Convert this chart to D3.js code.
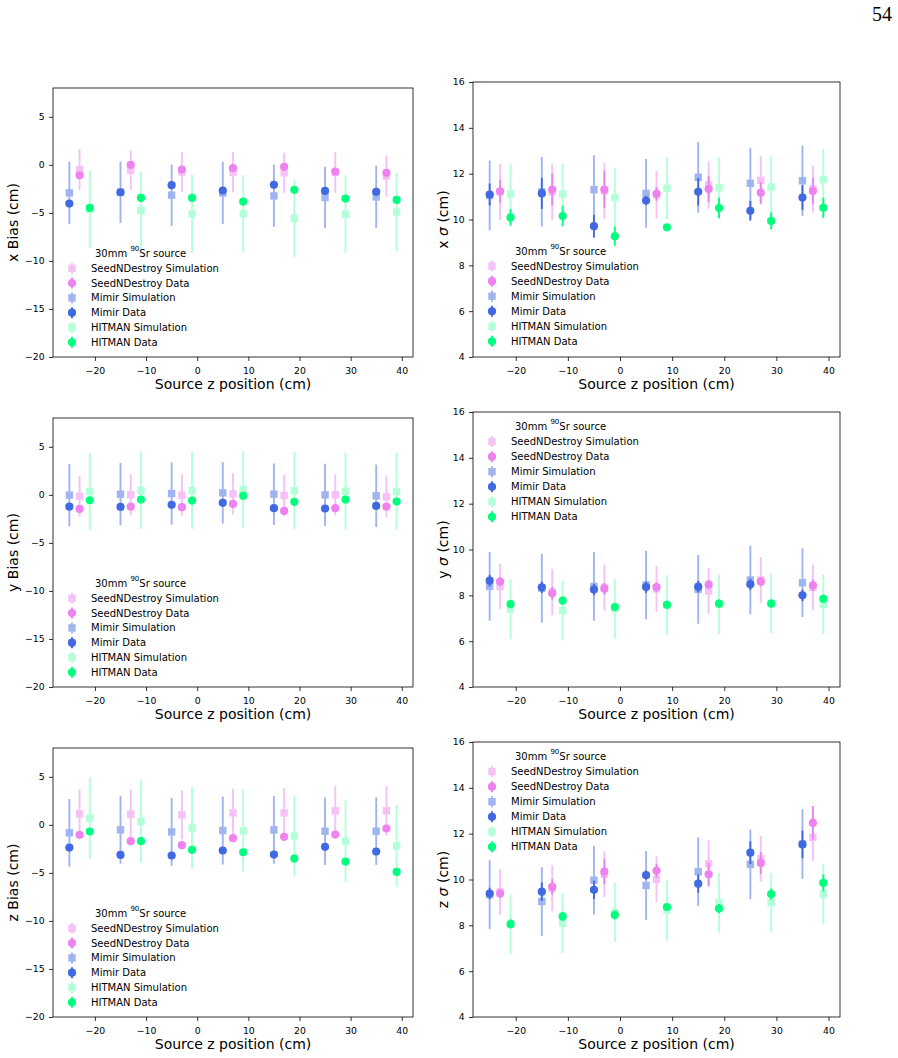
<!DOCTYPE html>
<html>
<head>
<meta charset="utf-8">
<script src="https://cdn.jsdelivr.net/npm/d3@7/dist/d3.min.js"></script>
<style>
  body { margin: 0; background: #fff; }
  svg text { font-family: "DejaVu Sans", sans-serif; fill: #000; }
</style>
</head>
<body>
<svg id="fig" width="898" height="1058"></svg>
<script>
// source z positions (cm); each detector is drawn shifted a little to the right
const zPositions = [-25, -15, -5, 5, 15, 25, 35];
const xTicks = [-20, -10, 0, 10, 20, 30, 40];
const biasTicks = [-20, -15, -10, -5, 0, 5];
const sigmaTicks = [4, 6, 8, 10, 12, 14, 16];

// every entry is [value, error]
// ---- x bias
const xBiasSndSim   = [[-0.49,2.15],[-0.56,2.05],[-0.76,2.1],[-0.76,2.1],[-0.83,2.1],[-0.80,2.1],[-1.15,2.15]];
const xBiasSndData  = [[-1.08,0.2],[0.0,0.2],[-0.49,0.2],[-0.35,0.2],[-0.21,0.2],[-0.69,0.2],[-0.83,0.2]];
const xBiasMimSim   = [[-2.92,3.25],[-2.85,3.2],[-3.16,3.2],[-2.92,3.25],[-3.23,3.23],[-3.40,3.2],[-3.33,3.23]];
const xBiasMimData  = [[-4.03,0.2],[-2.85,0.2],[-2.12,0.2],[-2.67,0.2],[-2.08,0.2],[-2.71,0.2],[-2.81,0.2]];
const xBiasHitSim   = [[-4.65,4.05],[-4.76,4.05],[-5.10,4.05],[-5.10,4.05],[-5.56,4.05],[-5.14,4.05],[-4.90,4.05]];
const xBiasHitData  = [[-4.48,0.2],[-3.44,0.2],[-3.44,0.2],[-3.82,0.2],[-2.60,0.2],[-3.51,0.2],[-3.65,0.2]];
// ---- x sigma
const xSigSndSim    = [[11.2,1.22],[11.2,1.22],[11.25,1.22],[11.08,1.03],[11.5,1.03],[11.71,1.05],[11.33,1.03]];
const xSigSndData   = [[11.23,0.5],[11.31,0.7],[11.31,0.8],[11.12,0.3],[11.33,0.57],[11.17,0.47],[11.24,0.58]];
const xSigMimSim    = [[11.05,1.52],[11.21,1.52],[11.30,1.5],[11.14,1.5],[11.84,1.54],[11.58,1.55],[11.69,1.54]];
const xSigMimData   = [[11.09,0.48],[11.14,0.68],[9.71,0.5],[10.83,0.2],[11.21,0.6],[10.38,0.43],[10.96,0.54]];
const xSigHitSim    = [[11.11,1.3],[11.11,1.33],[10.96,1.3],[11.36,1.35],[11.39,1.33],[11.42,1.33],[11.75,1.33]];
const xSigHitData   = [[10.09,0.36],[10.15,0.45],[9.27,0.42],[9.66,0.12],[10.50,0.45],[9.94,0.37],[10.51,0.44]];
// ---- y bias
const yBiasSndSim   = [[-0.14,2.13],[0.0,2.13],[-0.03,2.13],[0.10,2.13],[-0.07,2.13],[0.0,2.13],[-0.21,2.13]];
const yBiasSndData  = [[-1.46,0.2],[-1.22,0.2],[-1.28,0.2],[-0.94,0.2],[-1.67,0.2],[-1.39,0.2],[-1.22,0.2]];
const yBiasMimSim   = [[-0.03,3.25],[0.07,3.25],[0.14,3.25],[0.21,3.2],[0.07,3.2],[0.0,3.25],[-0.10,3.25]];
const yBiasMimData  = [[-1.22,0.2],[-1.25,0.2],[-1.04,0.2],[-0.83,0.2],[-1.39,0.2],[-1.42,0.2],[-1.15,0.2]];
const yBiasHitSim   = [[0.35,4.0],[0.45,4.0],[0.45,4.0],[0.56,4.0],[0.45,4.0],[0.38,4.0],[0.35,4.0]];
const yBiasHitData  = [[-0.56,0.2],[-0.49,0.2],[-0.59,0.2],[-0.10,0.2],[-0.73,0.2],[-0.49,0.2],[-0.69,0.2]];
// ---- y sigma
const ySigSndSim    = [[8.39,1.0],[8.15,1.0],[8.34,1.0],[8.28,1.0],[8.19,1.0],[8.67,1.0],[8.34,1.0]];
const ySigSndData   = [[8.60,0.2],[8.09,0.27],[8.29,0.25],[8.36,0.2],[8.47,0.2],[8.60,0.2],[8.44,0.25]];
const ySigMimSim    = [[8.39,1.5],[8.31,1.5],[8.39,1.5],[8.45,1.5],[8.26,1.5],[8.67,1.5],[8.55,1.5]];
const ySigMimData   = [[8.64,0.25],[8.35,0.25],[8.25,0.25],[8.36,0.25],[8.38,0.25],[8.48,0.25],[8.00,0.25]];
const ySigHitSim    = [[7.40,1.3],[7.34,1.3],[7.42,1.3],[7.58,1.3],[7.61,1.3],[7.64,1.3],[7.61,1.3]];
const ySigHitData   = [[7.62,0.18],[7.77,0.18],[7.49,0.18],[7.59,0.18],[7.64,0.18],[7.64,0.18],[7.85,0.18]];
// ---- z bias
const zBiasSndSim   = [[1.15,2.57],[1.11,2.57],[1.04,2.55],[1.25,2.53],[1.25,2.55],[1.46,2.6],[1.46,2.6]];
const zBiasSndData  = [[-1.04,0.2],[-1.70,0.2],[-2.12,0.2],[-1.39,0.2],[-1.25,0.2],[-1.01,0.2],[-0.38,0.4]];
const zBiasMimSim   = [[-0.83,3.52],[-0.52,3.52],[-0.73,3.54],[-0.59,3.54],[-0.52,3.52],[-0.66,3.52],[-0.66,3.52]];
const zBiasMimData  = [[-2.36,0.2],[-3.13,0.2],[-3.19,0.2],[-2.67,0.2],[-3.09,0.2],[-2.29,0.2],[-2.78,0.2]];
const zBiasHitSim   = [[0.69,4.24],[0.35,4.27],[-0.31,4.27],[-0.62,4.25],[-1.15,4.25],[-1.70,4.25],[-2.19,4.24]];
const zBiasHitData  = [[-0.69,0.2],[-1.70,0.2],[-2.60,0.2],[-2.85,0.2],[-3.51,0.2],[-3.82,0.2],[-4.90,0.2]];
// ---- z sigma
const zSigSndSim    = [[9.46,1.0],[9.61,1.0],[10.23,1.0],[10.01,1.0],[10.69,1.02],[10.91,1.0],[11.84,1.02]];
const zSigSndData   = [[9.39,0.2],[9.68,0.35],[10.34,0.55],[10.38,0.3],[10.23,0.5],[10.72,0.48],[12.47,0.74]];
const zSigMimSim    = [[9.34,1.5],[9.04,1.5],[9.97,1.5],[9.74,1.5],[10.34,1.5],[10.66,1.52],[11.55,1.52]];
const zSigMimData   = [[9.39,0.25],[9.47,0.4],[9.55,0.4],[10.19,0.2],[9.82,0.4],[11.17,0.5],[11.53,0.6]];
const zSigHitSim    = [[8.04,1.3],[8.09,1.3],[8.57,1.3],[8.66,1.3],[8.99,1.3],[8.99,1.3],[9.37,1.3]];
const zSigHitData   = [[8.06,0.2],[8.39,0.2],[8.45,0.2],[8.80,0.1],[8.73,0.2],[9.36,0.25],[9.85,0.37]];

// series look, in drawing/legend order
const seriesStyle = [
  { label: "SeedNDestroy Simulation", shift: 2, color: "#f6c1f6", marker: "square" },
  { label: "SeedNDestroy Data",       shift: 2, color: "#ee82ee", marker: "circle" },
  { label: "Mimir Simulation",        shift: 0, color: "#a0b4f0", marker: "square" },
  { label: "Mimir Data",              shift: 0, color: "#4169e1", marker: "circle" },
  { label: "HITMAN Simulation",       shift: 4, color: "#b2ffd8", marker: "square" },
  { label: "HITMAN Data",             shift: 4, color: "#00ff7f", marker: "circle" }
];

const panels = [
  { axis: "x", kind: "bias",  box: [53, 88, 413, 357],   legend: "lower",
    series: [xBiasSndSim, xBiasSndData, xBiasMimSim, xBiasMimData, xBiasHitSim, xBiasHitData] },
  { axis: "x", kind: "sigma", box: [473, 82, 840, 357],  legend: "lower",
    series: [xSigSndSim, xSigSndData, xSigMimSim, xSigMimData, xSigHitSim, xSigHitData] },
  { axis: "y", kind: "bias",  box: [53, 418, 413, 687],  legend: "lower",
    series: [yBiasSndSim, yBiasSndData, yBiasMimSim, yBiasMimData, yBiasHitSim, yBiasHitData] },
  { axis: "y", kind: "sigma", box: [473, 412, 840, 687], legend: "upper",
    series: [ySigSndSim, ySigSndData, ySigMimSim, ySigMimData, ySigHitSim, ySigHitData] },
  { axis: "z", kind: "bias",  box: [53, 748, 413, 1017], legend: "lower",
    series: [zBiasSndSim, zBiasSndData, zBiasMimSim, zBiasMimData, zBiasHitSim, zBiasHitData] },
  { axis: "z", kind: "sigma", box: [473, 742, 840, 1017], legend: "upper",
    series: [zSigSndSim, zSigSndData, zSigMimSim, zSigMimData, zSigHitSim, zSigHitData] }
];

const svg = d3.select("#fig");
svg.append("rect").attr("width", 898).attr("height", 1058).attr("fill", "#fff");

// page number
svg.append("text")
  .attr("x", 892).attr("y", 21)
  .attr("text-anchor", "end")
  .style("font-family", "'Liberation Serif', 'DejaVu Serif', serif")
  .style("font-size", "20px")
  .text("54");

function drawMarker(g, type, color) {
  if (type === "square") {
    g.append("rect").attr("x", -3.7).attr("y", -3.7).attr("width", 7.4).attr("height", 7.4).attr("fill", color);
  } else {
    g.append("circle").attr("r", 4.1).attr("fill", color);
  }
}

panels.forEach(p => {
  const [x0, y0, x1, y1] = p.box;
  const x = d3.scaleLinear().domain([-28.2, 42.2]).range([x0, x1]);
  const y = p.kind === "bias"
    ? d3.scaleLinear().domain([-20, 8]).range([y1, y0])
    : d3.scaleLinear().domain([4, 16]).range([y1, y0]);

  const g = svg.append("g");

  //---- axes
  const xAxis = g.append("g")
    .attr("transform", "translate(0," + y1 + ")")
    .call(d3.axisBottom(x).tickValues(xTicks).tickSize(4).tickPadding(6).tickFormat(d3.format("d")));
  const yAxis = g.append("g")
    .attr("transform", "translate(" + x0 + ",0)")
    .call(d3.axisLeft(y).tickValues(p.kind === "bias" ? biasTicks : sigmaTicks).tickSize(4).tickPadding(4.3).tickFormat(d3.format("d")));
  [xAxis, yAxis].forEach(a => {
    a.select(".domain").remove();
    a.selectAll("line").attr("stroke", "#000").attr("stroke-width", 0.8);
    a.selectAll("text").style("font-size", "9.3px").style("font-family", "'DejaVu Sans', sans-serif");
  });

  g.append("rect")
    .attr("x", x0).attr("y", y0)
    .attr("width", x1 - x0).attr("height", y1 - y0)
    .attr("fill", "none").attr("stroke", "#000").attr("stroke-width", 0.8);

  // labels
  g.append("text")
    .attr("x", (x0 + x1) / 2).attr("y", y1 + 32)
    .attr("text-anchor", "middle")
    .style("font-size", "14px")
    .text("Source z position (cm)");

  const yOff = p.kind === "bias" ? 34.7 : 25.3;
  const yl = g.append("text")
    .attr("transform", "translate(" + (x0 - yOff) + "," + ((y0 + y1) / 2) + ") rotate(-90)")
    .attr("text-anchor", "middle")
    .style("font-size", "14px");
  if (p.kind === "bias") {
    yl.text(p.axis + " Bias (cm)");
  } else {
    yl.append("tspan").text(p.axis + " ");
    yl.append("tspan").style("font-style", "italic").text("σ");
    yl.append("tspan").text(" (cm)");
  }

  //---- points with error bars
  p.series.forEach((vals, si) => {
    const st = seriesStyle[si];
    const pts = g.append("g").selectAll("g")
      .data(vals.map((v, i) => ({ z: zPositions[i] + st.shift, v: v[0], e: v[1] })))
      .enter().append("g");
    pts.append("line")
      .attr("x1", d => x(d.z)).attr("x2", d => x(d.z))
      .attr("y1", d => y(d.v - d.e)).attr("y2", d => y(d.v + d.e))
      .attr("stroke", st.color).attr("stroke-width", 1.9);
    pts.each(function(d) {
      const m = d3.select(this).append("g").attr("transform", "translate(" + x(d.z) + "," + y(d.v) + ")");
      drawMarker(m, st.marker, st.color);
    });
  });

  //---- legend (no frame)
  const lx = x0 + 19;
  const rowH = p.kind === "bias" ? 14.8 : 15.05;
  let titleY;
  if (p.legend === "lower") {
    titleY = y1 - (p.kind === "bias" ? 104.3 : 106.5);
  } else {
    titleY = y0 + 14;
  }
  const title = g.append("text")
    .attr("x", x0 + 42).attr("y", titleY)
    .attr("dominant-baseline", "central")
    .style("font-size", "10px");
  title.append("tspan").text("30mm ");
  title.append("tspan").attr("dy", -3.8).style("font-size", "7px").text("90");
  title.append("tspan").attr("dy", 3.8).text("Sr source");

  seriesStyle.forEach((st, i) => {
    const ly = titleY + 15.6 + i * rowH;
    const item = g.append("g").attr("transform", "translate(" + lx + "," + ly + ")");
    item.append("line").attr("y1", -5.5).attr("y2", 5.5).attr("stroke", st.color).attr("stroke-width", 1.9);
    drawMarker(item, st.marker, st.color);
    item.append("text")
      .attr("x", 19).attr("y", 0)
      .attr("dominant-baseline", "central")
      .style("font-size", "10px")
      .text(st.label);
  });
});
</script>
</body>
</html>
